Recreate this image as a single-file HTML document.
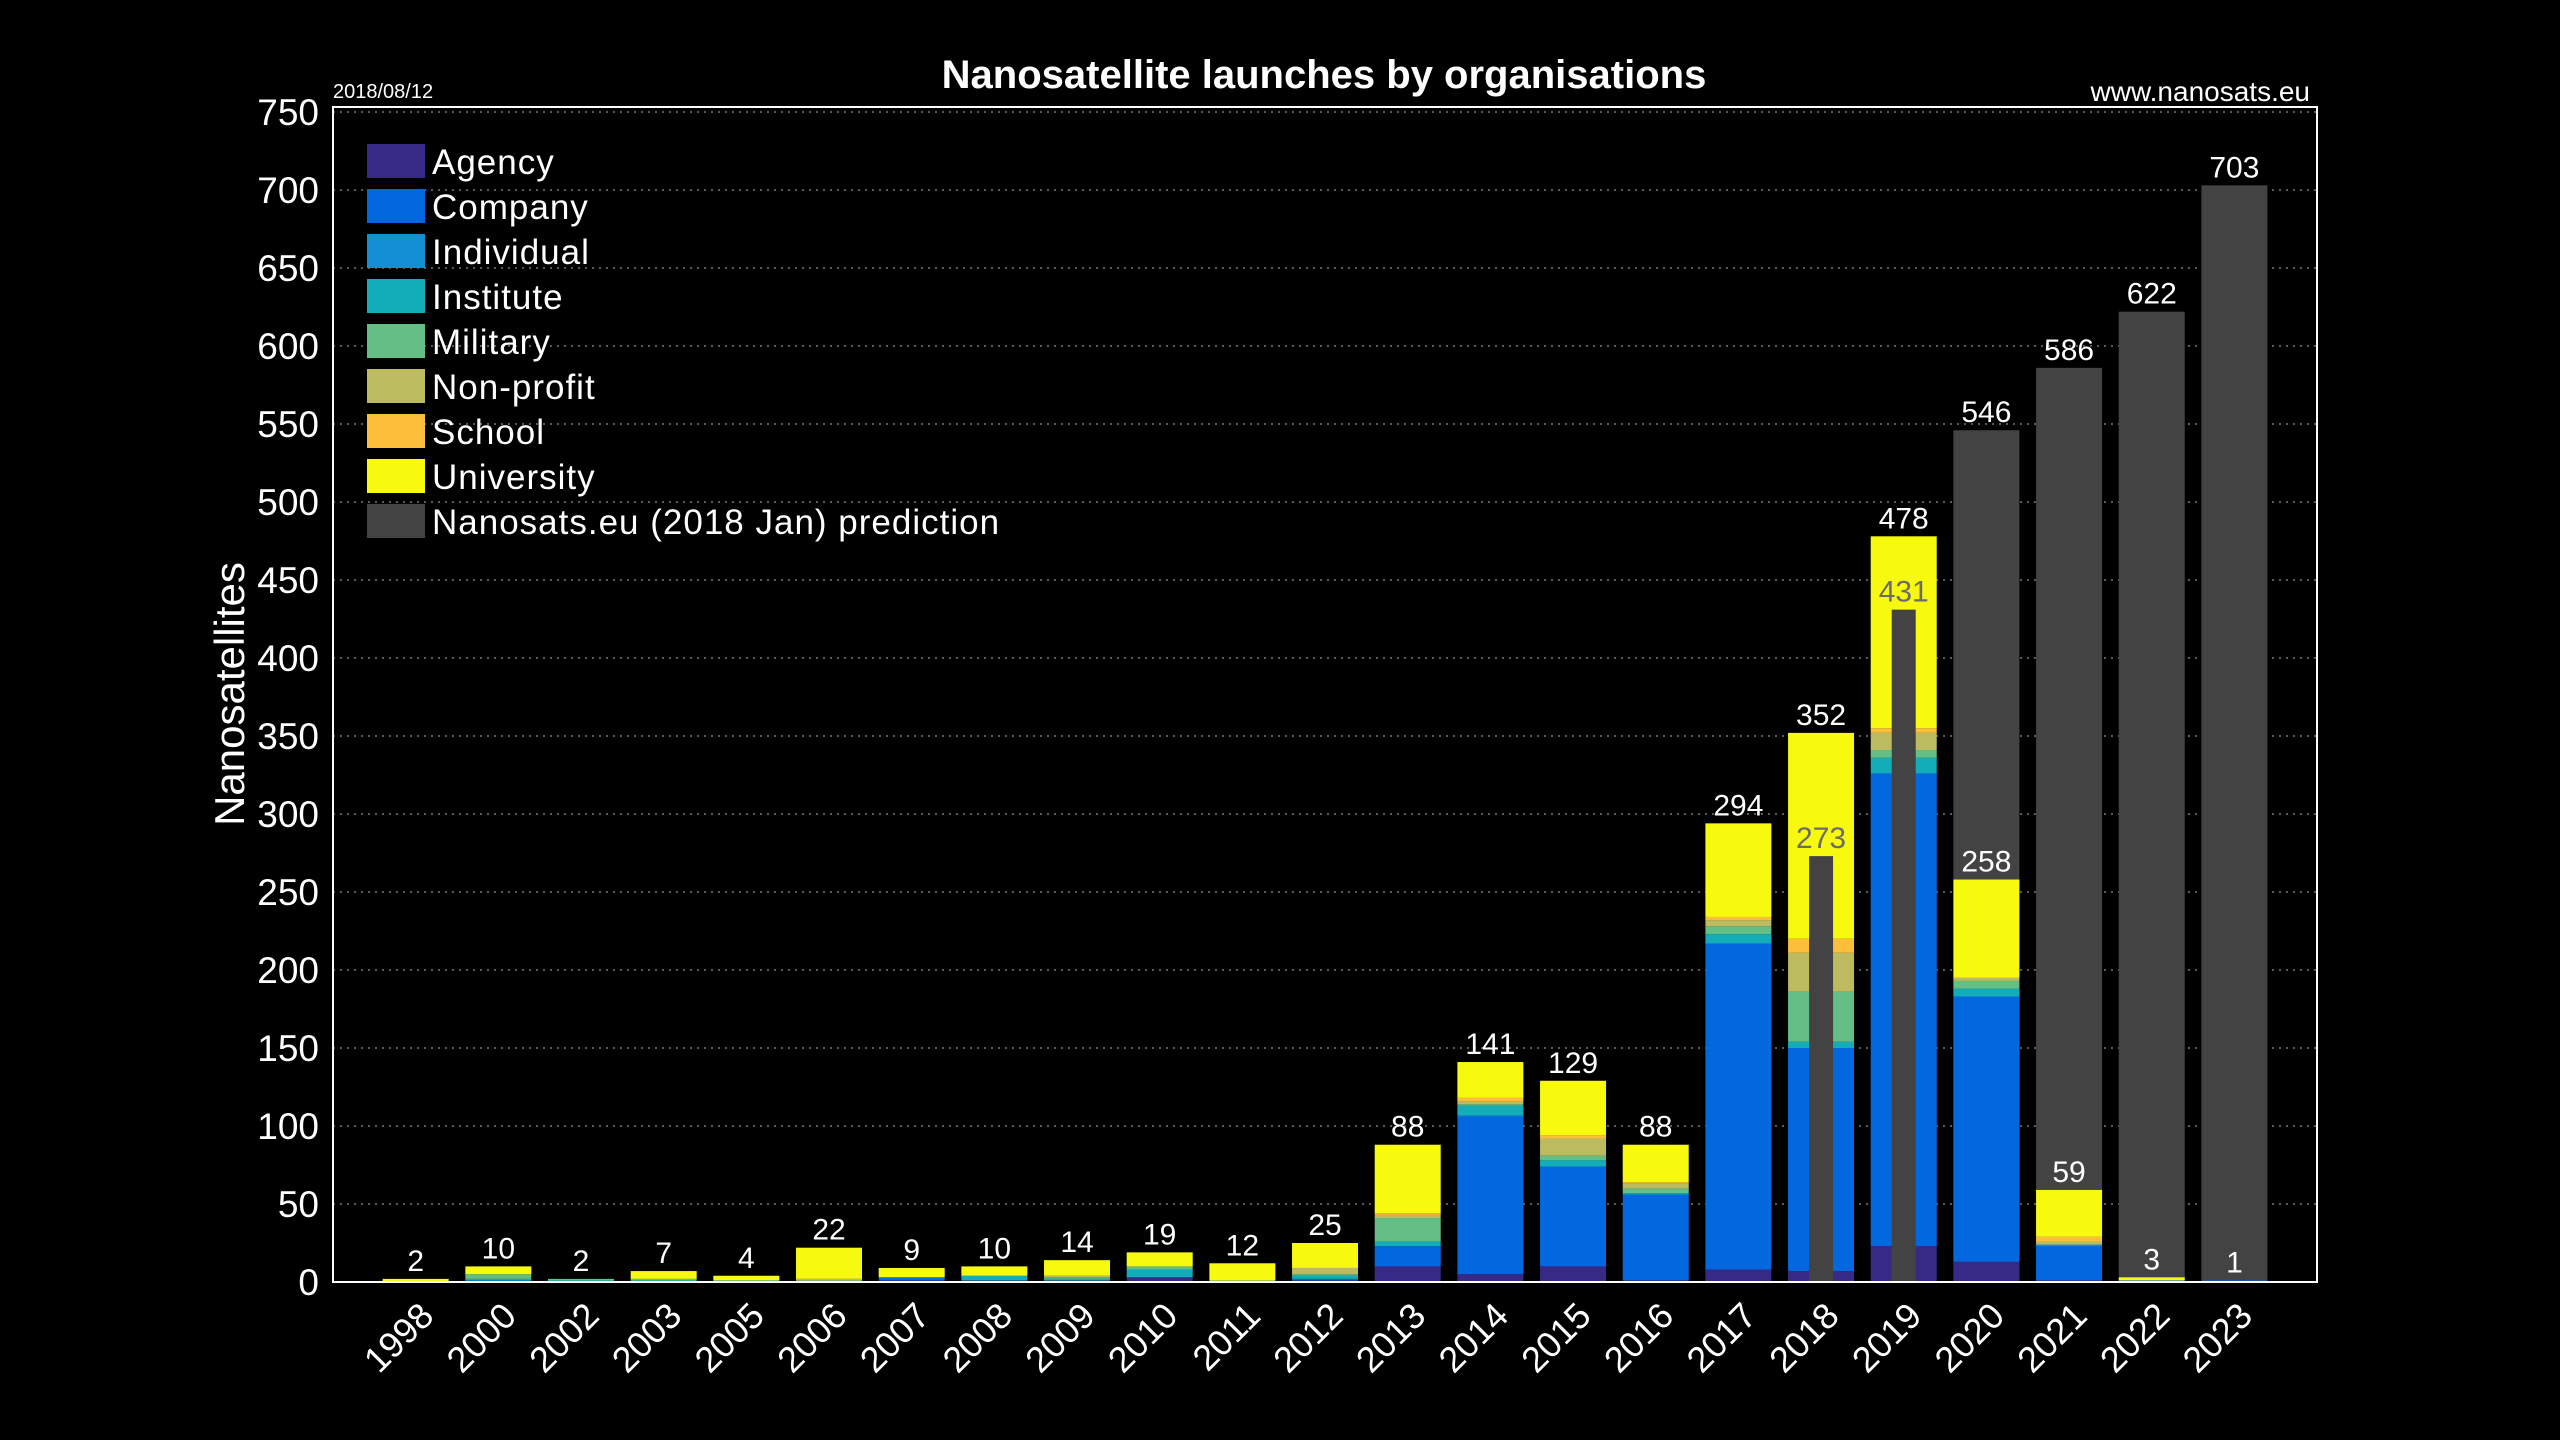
<!DOCTYPE html>
<html><head><meta charset="utf-8"><style>
html,body{margin:0;padding:0;background:#000;width:2560px;height:1440px;overflow:hidden}
svg{display:block;font-family:"Liberation Sans",sans-serif}
</style></head><body>
<svg id="c" width="2560" height="1440" xmlns="http://www.w3.org/2000/svg">
<rect width="2560" height="1440" fill="#000"/>
</svg>
<script>
const svg=document.getElementById('c');
const NS='http://www.w3.org/2000/svg';
function el(t,a,txt){const e=document.createElementNS(NS,t);for(const k in a)e.setAttribute(k,a[k]);if(txt!==undefined)e.textContent=txt;svg.appendChild(e);return e;}
const L=333,R=2317,T=107,B=1282,PU=1.56;
const y=v=>B-v*PU;
for(let v=50;v<=750;v+=50){el('line',{x1:L,x2:R,y1:y(v),y2:y(v),stroke:'#777','stroke-width':1.5,'stroke-dasharray':'2 5'});}
for(let v=0;v<=750;v+=50){el('text',{x:319,y:y(v)+13,'text-anchor':'end',fill:'#fff','font-size':37},String(v));}
const cols=['#372a87','#0368e0','#148fd4','#12adb9','#64bf87','#bdbb5f','#fdbf39','#f7f90e'];
const years=['1998','2000','2002','2003','2005','2006','2007','2008','2009','2010','2011','2012','2013','2014','2015','2016','2017','2018','2019','2020','2021','2022','2023'];
const data=[
[0,0,0,0,0,0,0,2],[0,1,0,1,3,0,0,5],[0,0,0,1,1,0,0,0],[0,0,0,1,1,0,0,5],[0,0,0,1,0,0,0,3],
[0,0,0,0,1,1,0,20],[1,2,0,0,0,0,0,6],[1,0,0,3,0,0,0,6],[1,0,0,1,1,1,0,10],[3,0,0,5,2,0,0,9],
[0,0,0,0,1,0,0,11],[1,1,0,2,1,4,0,16],[10,13,0,3,15,2,1,44],[5,101,1,6,1,2,2,23],[10,64,0,4,3,11,2,35],
[1,55,0,1,3,3,1,24],[8,209,0,6,5,4,2,60],[7,143,0,4,32,25,9,132],[23,303,0,10,5,11,3,123],[13,170,0,5,5,2,0,63],
[1,22,1,0,0,2,3,30],[0,1,0,0,0,0,0,2],[0,1,0,0,0,0,0,0]];
const pred={17:273,18:431,19:546,20:586,21:622,22:703};
const step=82.67,bw=66;
years.forEach((yr,i)=>{
 const cx=L+step*(i+1), x0=cx-bw/2;
 const tot=data[i].reduce((a,b)=>a+b,0);
 if(i>=19){el('rect',{x:x0,y:y(pred[i]),width:bw,height:pred[i]*PU,fill:'#434343'});
   el('text',{x:cx,y:y(pred[i])-8,'text-anchor':'middle',fill:'#fff','font-size':30},String(pred[i]));}
 let acc=0;
 data[i].forEach((v,k)=>{if(v>0){el('rect',{x:x0,y:y(acc+v),width:bw,height:v*PU,fill:cols[k]});acc+=v;}});
 el('text',{x:cx,y:y(tot)-8,'text-anchor':'middle',fill:'#fff','font-size':30},String(tot));
 if(i==17||i==18){el('rect',{x:cx-12,y:y(pred[i]),width:24,height:pred[i]*PU,fill:'#434343'});
   el('text',{x:cx,y:y(pred[i])-8,'text-anchor':'middle',fill:'#6b6b6b','font-size':30},String(pred[i]));}
 const tx=cx+20,ty=1318;
 el('text',{x:tx,y:ty,'text-anchor':'end',fill:'#fff','font-size':36,transform:`rotate(-45 ${tx} ${ty})`},yr);
});
el('rect',{x:L,y:T,width:R-L,height:B-T,fill:'none',stroke:'#fff','stroke-width':2});
const names=['Agency','Company','Individual','Institute','Military','Non-profit','School','University','Nanosats.eu (2018 Jan) prediction'];
const lc=cols.concat(['#434343']);
names.forEach((n,k)=>{const yy=144+k*45;el('rect',{x:367,y:yy,width:58,height:34,fill:lc[k]});
 el('text',{x:432,y:yy+30,fill:'#fff','font-size':35,'letter-spacing':1},n);});
el('text',{x:1324,y:88,'text-anchor':'middle',fill:'#fff','font-size':40,'font-weight':'bold'},'Nanosatellite launches by organisations');
el('text',{x:333,y:98,fill:'#fff','font-size':20},'2018/08/12');
el('text',{x:2310,y:101,'text-anchor':'end',fill:'#fff','font-size':28},'www.nanosats.eu');
el('text',{x:244,y:694,'text-anchor':'middle',fill:'#fff','font-size':42,transform:'rotate(-90 244 694)'},'Nanosatellites');
</script>
</body></html>
